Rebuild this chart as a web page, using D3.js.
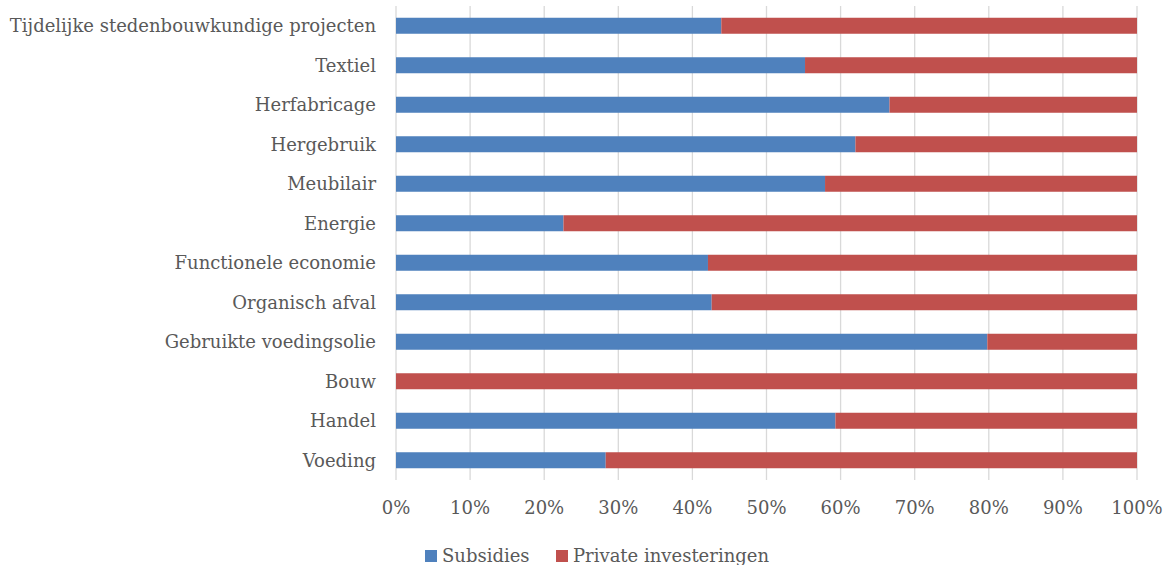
<!DOCTYPE html>
<html>
<head>
<meta charset="utf-8">
<script src="https://cdn.jsdelivr.net/npm/d3@7"></script>
<style>
  body { margin: 0; background: #fff; }
  svg text { font-family: "DejaVu Serif", serif; fill: #595959; }
</style>
</head>
<body>
<svg id="chart"></svg>
<script>
const categories = [
    "Tijdelijke stedenbouwkundige projecten", "Textiel", "Herfabricage", "Hergebruik",
    "Meubilair", "Energie", "Functionele economie", "Organisch afval",
    "Gebruikte voedingsolie", "Bouw", "Handel", "Voeding"
];
const subsidies = [43.9, 55.2, 66.6, 62.0, 57.9, 22.6, 42.1, 42.6, 79.8, 0, 59.3, 28.3];
const privateInv = subsidies.map(v => 100 - v);
const seriesNames = ["Subsidies", "Private investeringen"];
const colors = ["#4f81bd", "#c0504d"];
const xTicks = [0, 0.1, 0.2, 0.3, 0.4, 0.5, 0.6, 0.7, 0.8, 0.9, 1];

const W = 1167, H = 565;
const margin = {top: 6, right: 30, bottom: 85, left: 396};
const width = W - margin.left - margin.right,
      height = H - margin.top - margin.bottom;

const svg = d3.select("#chart")
    .attr("width", W)
    .attr("height", H);

const g = svg.append("g")
    .attr("transform", `translate(${margin.left},${margin.top})`);

const x = d3.scaleLinear().domain([0, 1]).range([0, width]);
const y = d3.scaleBand().domain(categories).range([0, height]).paddingInner(0.595).paddingOuter(0.2975);

// gridlines
g.append("g").selectAll("line")
    .data(xTicks)
  .enter().append("line")
    .attr("x1", d => x(d)).attr("x2", d => x(d))
    .attr("y1", 0).attr("y2", height)
    .attr("stroke", "#d9d9d9")
    .attr("stroke-width", 1.3);

const rows = categories.map((c, i) => ({cat: c, vals: [subsidies[i], privateInv[i]]}));
const stacked = d3.stack().keys([0, 1]).value((d, k) => d.vals[k] / 100)(rows);

g.append("g").selectAll("g")
    .data(stacked)
  .enter().append("g")
    .attr("fill", (d, i) => colors[i])
  .selectAll("rect")
    .data(d => d)
  .enter().append("rect")
    .attr("x", d => x(d[0]))
    .attr("width", d => Math.max(0, x(d[1]) - x(d[0])))
    .attr("y", d => y(d.data.cat))
    .attr("height", y.bandwidth());

// category labels
g.append("g").selectAll("text")
    .data(categories)
  .enter().append("text")
    .attr("x", -20)
    .attr("y", d => y(d) + y.bandwidth() / 2)
    .attr("dy", "0.35em")
    .attr("text-anchor", "end")
    .style("font-size", "18px")
    .text(d => d);

// x axis labels
g.append("g").selectAll("text")
    .data(xTicks)
  .enter().append("text")
    .attr("x", d => x(d))
    .attr("y", height + 28)
    .attr("dy", "0.35em")
    .attr("text-anchor", "middle")
    .style("font-size", "18px")
    .text(d => d3.format(".0%")(d));

// legend
const legend = svg.append("g").attr("transform", "translate(425,556)");
const items = [{name: seriesNames[0], x: 0}, {name: seriesNames[1], x: 131}];
items.forEach((it, i) => {
    legend.append("rect")
        .attr("x", it.x).attr("y", -6)
        .attr("width", 12).attr("height", 12)
        .attr("fill", colors[i]);
    legend.append("text")
        .attr("x", it.x + 17)
        .attr("y", 0)
        .attr("dy", "0.35em")
        .style("font-size", "18px")
        .text(it.name);
});
</script>
</body>
</html>
